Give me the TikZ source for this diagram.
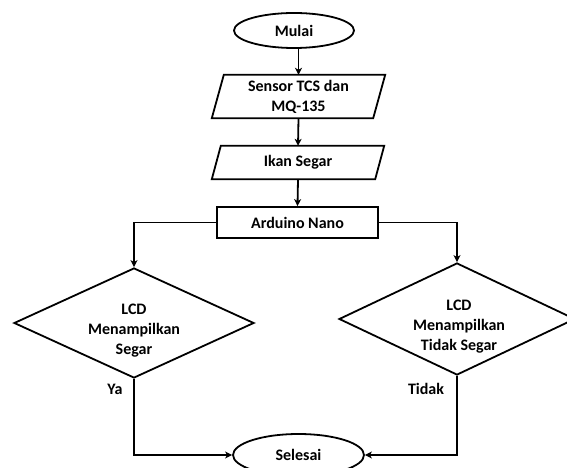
\documentclass[tikz,border=0pt]{standalone}
\usepackage{fontspec}
\setmainfont{Carlito}
\usetikzlibrary{shapes.geometric,arrows.meta}
\begin{document}
\begin{tikzpicture}[x=1bp,y=-1bp,
  every node/.style={font=\fontsize{16bp}{20bp}\selectfont\bfseries, align=center, inner sep=0pt},
  line/.style={line width=1.8bp},
  arr/.style={line, -{Stealth[length=7bp,width=7bp,inset=2bp]}},
  term/.style={ellipse, draw, line width=1.8bp},
  iobox/.style={minimum height=#1},
  procbox/.style={draw, line width=1.8bp, minimum width=161bp, minimum height=31bp},
  decision/.style={diamond, draw, line width=1.8bp}
]
\useasboundingbox (0,0) rectangle (567,468);
\fill[white] (0,0) rectangle (567,468);

% terminals
\node[term, minimum width=120bp, minimum height=35bp] (m) at (294,30.5) {Mulai};
\node[term, minimum width=131bp, minimum height=42bp] (e) at (298.5,455) {Selesai};

% input/output boxes
\node[iobox=43bp, minimum width=161bp] (s) at (298.5,96.5) {Sensor TCS dan\\MQ-135};
\draw[line] ([xshift=6bp]s.north west) -- ([xshift=6bp]s.north east)
  -- ([xshift=-6bp]s.south east) -- ([xshift=-6bp]s.south west) -- cycle;
\node[iobox=33bp, minimum width=163bp] (k) at (298,162.5) {Ikan Segar};
\draw[line] ([xshift=4.5bp]k.north west) -- ([xshift=4.5bp]k.north east)
  -- ([xshift=-4.5bp]k.south east) -- ([xshift=-4.5bp]k.south west) -- cycle;

% process
\node[procbox] (a) at (297.5,222.5) {Arduino Nano};

% decisions
\node[decision, minimum width=240bp, minimum height=110bp] (d1) at (134,323) {};
\node (t1) at (134,331) {LCD\\Menampilkan\\Segar};
\node[decision, minimum width=236bp, minimum height=112bp] (d2) at (457,319) {};
\node (t2) at (459,327) {LCD\\Menampilkan\\Tidak Segar};

% labels
\node (ya) at (115,389) {Ya};
\node (td) at (426,389) {Tidak};

% connectors
\draw[arr] (s.north |- m.south) -- (s.north);
\draw[arr] (s.south) -- (k.north);
\draw[arr] (k.south) -- (a.north);
\draw[arr] (a.west) -| (d1.north);
\draw[arr] (a.east) -| (d2.north);
\draw[arr] (d1.south) |- (e.west);
\draw[arr] (d2.south) |- (e.east);
\end{tikzpicture}
\end{document}
